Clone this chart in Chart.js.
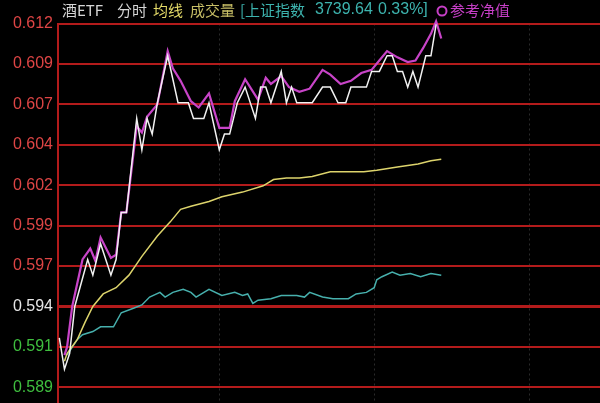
<!DOCTYPE html>
<html lang="zh">
<head>
  <meta charset="UTF-8">
  <title>酒ETF 分时</title>
  <script src="https://cdn.jsdelivr.net/npm/chart.js"></script>
  <style>
    html, body { margin: 0; padding: 0; background: #000; }
    #wrap { width: 600px; height: 403px; }
  </style>
</head>
<body>
  <div id="wrap"><canvas id="myChart" width="600" height="403"></canvas></div>
  <script>
    // minutes after 9:30 (afternoon continues after 120) and values
    const priceTimes = [-2, 0, 2, 4, 9, 11, 14, 18, 20, 22, 24, 28, 30, 32, 34, 36, 40, 44, 48, 50,
      54, 56, 60, 62, 64, 67, 70, 74, 76, 78, 80, 84, 86, 88, 90, 96, 100, 103, 106, 109,
      111, 117, 119, 122, 125, 127, 129, 131, 133, 135, 137, 140, 142, 144];
    const priceValues = [0.592, 0.590, 0.591, 0.594, 0.597, 0.596, 0.598, 0.596, 0.597, 0.600,
      0.600, 0.606, 0.604, 0.606, 0.605, 0.607, 0.610, 0.607, 0.607, 0.606,
      0.606, 0.607, 0.604, 0.605, 0.605, 0.607, 0.608, 0.606, 0.608, 0.608,
      0.607, 0.609, 0.607, 0.608, 0.607, 0.607, 0.608, 0.608, 0.607, 0.607,
      0.608, 0.608, 0.609, 0.609, 0.610, 0.610, 0.609, 0.609, 0.608, 0.609,
      0.608, 0.610, 0.610, 0.612];

    // 参考净值
    const navTimes = [0, 1, 3, 7, 10, 12, 14, 18, 20, 22, 24, 28, 30, 32, 36, 40, 42, 45, 49, 52,
      56, 60, 64, 66, 70, 75, 78, 80, 84, 87, 91, 95, 100, 103, 107, 111, 115, 119, 122, 125,
      129, 133, 136, 139, 142, 144, 146];
    const navValues = [0.5909, 0.5914, 0.5940, 0.5970, 0.5977, 0.5969, 0.5984, 0.5971, 0.5973, 0.6000,
      0.6000, 0.6055, 0.6051, 0.6061, 0.6069, 0.6103, 0.6092, 0.6084, 0.6071, 0.6067,
      0.6076, 0.6054, 0.6054, 0.6071, 0.6085, 0.6072, 0.6086, 0.6082, 0.6087, 0.6080,
      0.6077, 0.6079, 0.6091, 0.6088, 0.6082, 0.6084, 0.6089, 0.6091, 0.6097, 0.6103,
      0.6099, 0.6096, 0.6097, 0.6105, 0.6114, 0.6122, 0.6111];

    // 均线
    const avgTimes = [0, 1, 5, 8, 11, 15, 20, 25, 30, 36, 41, 45, 49, 56, 61, 69, 77, 81, 86, 91,
      96, 103, 108, 116, 121, 129, 137, 142, 146];
    const avgValues = [0.5905, 0.5910, 0.5919, 0.5930, 0.5940, 0.5948, 0.5952, 0.5960, 0.5972, 0.5985,
      0.5994, 0.6002, 0.6004, 0.6007, 0.6010, 0.6013, 0.6017, 0.6021, 0.6022, 0.6022,
      0.6023, 0.6026, 0.6026, 0.6026, 0.6027, 0.6029, 0.6031, 0.6033, 0.6034];

    // 上证指数 overlay, drawn in the same price units
    const indexTimes = [1, 5, 7, 11, 14, 19, 22, 27, 30, 33, 37, 39, 42, 46, 49, 51, 56, 61, 66, 69,
      71, 73, 75, 80, 84, 90, 93, 95, 100, 104, 110, 113, 117, 120, 121, 123, 127, 130, 134, 138,
      142, 146];
    const indexValues = [0.5909, 0.5919, 0.5922, 0.5924, 0.5927, 0.5927, 0.5936, 0.5939, 0.5941, 0.5946,
      0.5949, 0.5946, 0.5949, 0.5951, 0.5949, 0.5946, 0.5951, 0.5947, 0.5949, 0.5947,
      0.5948, 0.5942, 0.5944, 0.5945, 0.5947, 0.5947, 0.5946, 0.5949, 0.5946, 0.5945,
      0.5945, 0.5948, 0.5949, 0.5952, 0.5957, 0.5959, 0.5962, 0.5960, 0.5961, 0.5959,
      0.5961, 0.5960];

    // y grid lines and their labels (bottom to top), 0.594 = previous close
    const gridValues = [0.58884, 0.59142, 0.594, 0.59658, 0.59916, 0.60174, 0.60432, 0.6069, 0.60948, 0.61206];
    const tickLabels = ['0.589', '0.591', '0.594', '0.597', '0.599', '0.602', '0.604', '0.607', '0.609', '0.612'];
    const prevClose = 0.594;
    // 10:30, 11:30/13:00, 14:00
    const sessionMarks = [60, 120, 180];

    const toPoints = (xs, ys) => xs.map((t, i) => ({ x: t, y: ys[i] }));

    const headerPlugin = {
      id: 'header',
      afterDraw(chart) {
        const c = chart.ctx;
        c.save();
        c.textBaseline = 'middle';
        const cjk = '15px "Noto Sans CJK SC", sans-serif';
        const latin = '16px "Liberation Sans", "Noto Sans CJK SC", sans-serif';
        const items = [
          ['酒ETF', 62, '#d6d6d6', cjk],
          ['分时', 117, '#d6d6d6', cjk],
          ['均线', 153, '#e4da68', cjk],
          ['成交量', 190, '#c7be66', cjk],
          ['[上证指数', 240, '#3db3ae', cjk],
          ['3739.64', 315, '#3db3ae', latin],
          ['0.33%]', 378, '#3db3ae', latin],
          ['参考净值', 450, '#c63fc6', cjk]
        ];
        items.forEach(([txt, x, col, f]) => {
          c.font = f;
          c.fillStyle = col;
          c.fillText(txt, x, 10);
        });
        c.strokeStyle = '#c63fc6';
        c.lineWidth = 2;
        c.beginPath();
        c.arc(442, 11, 4.5, 0, Math.PI * 2);
        c.stroke();
        c.restore();
      }
    };

    const ctx = document.getElementById('myChart').getContext('2d');
    const myChart = new Chart(ctx, {
      type: 'line',
      data: {
        datasets: [
          { label: '酒ETF', data: toPoints(priceTimes, priceValues), borderColor: '#f2f2f2', borderWidth: 1.5 },
          { label: '参考净值', data: toPoints(navTimes, navValues), borderColor: '#c844c8', borderWidth: 2.2 },
          { label: '均线', data: toPoints(avgTimes, avgValues), borderColor: '#ddd46c', borderWidth: 1.5 },
          { label: '上证指数', data: toPoints(indexTimes, indexValues), borderColor: '#47b0ad', borderWidth: 1.5 }
        ]
      },
      options: {
        responsive: false,
        animation: false,
        parsing: false,
        elements: {
          point: { radius: 0 },
          line: { tension: 0 }
        },
        datasets: { line: { clip: false } },
        layout: { padding: { top: 23.5, left: 0, right: 0, bottom: 0 } },
        plugins: {
          legend: { display: false },
          tooltip: { enabled: false }
        },
        scales: {
          x: {
            type: 'linear',
            min: -2.5,
            max: 207.5,
            afterBuildTicks: s => { s.ticks = sessionMarks.map(v => ({ value: v })); },
            afterFit: s => { s.height = 0; s.paddingLeft = 0; s.paddingRight = 0; },
            ticks: { display: false },
            grid: { color: '#2a2a2a', lineWidth: 1, drawTicks: false },
            border: { display: false, dash: [2, 3] }
          },
          y: {
            min: 0.58784,
            max: 0.61206,
            afterBuildTicks: s => { s.ticks = gridValues.map(v => ({ value: v })); },
            afterFit: s => { s.width = 58; s.paddingTop = 0; s.paddingBottom = 0; },
            ticks: {
              padding: 5,
              font: { size: 16, family: '"Liberation Sans", Arial, sans-serif' },
              callback: (v, i) => tickLabels[i],
              color: c => {
                const v = c.tick.value;
                if (Math.abs(v - prevClose) < 1e-6) return '#e6e6e6';
                return v > prevClose ? '#de4545' : '#3fbf3f';
              }
            },
            grid: {
              color: '#b31b1b',
              lineWidth: c => (c.tick && Math.abs(c.tick.value - prevClose) < 1e-6) ? 3 : 2,
              drawTicks: false
            },
            border: { color: '#b31b1b', width: 2 }
          }
        }
      },
      plugins: [headerPlugin]
    });
  </script>
</body>
</html>
